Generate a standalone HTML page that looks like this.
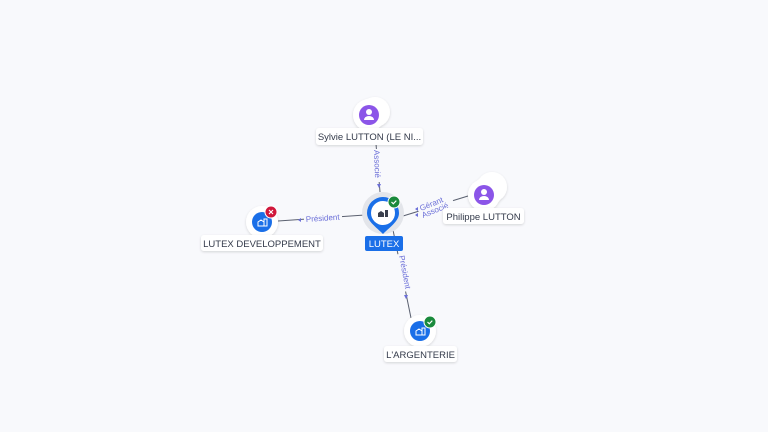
<!DOCTYPE html>
<html><head><style>
html,body{margin:0;padding:0;background:#f8f9fc;}
svg{display:block;font-family:"Liberation Sans",sans-serif;}
</style></head><body>
<svg width="768" height="432" viewBox="0 0 768 432" xmlns="http://www.w3.org/2000/svg">
<rect width="768" height="432" fill="#f8f9fc"/>
<defs>
<filter id="sh" x="-50%" y="-50%" width="200%" height="200%"><feDropShadow dx="0" dy="1" stdDeviation="1.2" flood-color="#000" flood-opacity="0.15"/></filter>
</defs>
<!-- edges -->
<g stroke="#5b6170" stroke-width="1" fill="none">
<line x1="375" y1="132" x2="380" y2="192"/>
<line x1="468" y1="196" x2="403" y2="216"/>
<line x1="278" y1="221" x2="365" y2="215"/>
<line x1="393" y1="230" x2="411" y2="318"/>
</g>
<g fill="#6b6fd8" font-size="8">
<rect x="372" y="149" width="10" height="33" fill="#f8f9fc"/>
<text transform="translate(374,150) rotate(88)">Associé</text>
<polygon points="377,184 381,184 379,188"/>
<rect x="419" y="198" width="36" height="22" fill="#f8f9fc" transform="rotate(-22 437 209)"/>
<text transform="translate(421,211) rotate(-22)">Gérant</text>
<text transform="translate(423,218) rotate(-22)">Associé</text>
<polygon points="418,207 418,211 415,209"/>
<polygon points="418,213 418,217 415,215"/>
<rect x="304" y="213" width="38" height="10" fill="#f8f9fc"/>
<text transform="translate(306,222) rotate(-4)">Président</text>
<polygon points="301,218 301,222 298,220"/>
<rect x="396" y="254" width="10" height="38" fill="#f8f9fc" transform="rotate(-11 401 273)"/>
<text transform="translate(399,256) rotate(79)">Président</text>
<polygon points="404,295 408,295 406,299"/>
</g>
<!-- Sylvie -->
<g filter="url(#sh)">
<circle cx="375" cy="112" r="15" fill="#fff"/>
<circle cx="372" cy="113" r="15" fill="#fff"/>
<circle cx="369" cy="115" r="16" fill="#fff"/>
</g>
<circle cx="369" cy="115" r="10" fill="#8b55e8"/>
<circle cx="369" cy="112" r="3" fill="#fff"/>
<path d="M364 120 a5 4 0 0 1 10 0 z" fill="#fff"/>
<rect x="316" y="128" width="107" height="17" rx="3" fill="#fff" filter="url(#sh)"/>
<text x="369.5" y="140" font-size="9.5" fill="#333a4a" text-anchor="middle">Sylvie LUTTON (LE NI...</text>
<!-- Philippe -->
<g filter="url(#sh)">
<circle cx="492" cy="187" r="15" fill="#fff"/>
<circle cx="488" cy="191" r="15" fill="#fff"/>
<circle cx="484" cy="195" r="16" fill="#fff"/>
</g>
<circle cx="484" cy="195" r="10" fill="#8b55e8"/>
<circle cx="484" cy="192" r="3" fill="#fff"/>
<path d="M479 200 a5 4 0 0 1 10 0 z" fill="#fff"/>
<rect x="443" y="208" width="81" height="16" rx="3" fill="#fff" filter="url(#sh)"/>
<text x="483.5" y="220" font-size="9.5" fill="#333a4a" text-anchor="middle">Philippe LUTTON</text>
<!-- LUTEX center -->
<circle cx="383" cy="213" r="21" fill="#e3e5ea"/>
<path d="M367 213 a16 16 0 1 1 32 0 c0 8 -8 13 -16 21 c-8 -8 -16 -13 -16 -21z" fill="#1a6fe8"/>
<circle cx="383" cy="213" r="12" fill="#fff"/>
<path d="M378 217 v-4 l3 -2 l3 2 v4 z M385 217 v-7 h3 v7z" fill="#3a3f4d"/>
<circle cx="394" cy="202" r="6" fill="#1a8a3c" stroke="#fff" stroke-width="1"/>
<path d="M391.5 202 l1.8 1.8 l3 -3.2" stroke="#fff" stroke-width="1.2" fill="none"/>
<rect x="365" y="236" width="38" height="15" rx="2" fill="#1a6fe8"/>
<text x="384" y="247" font-size="9.5" fill="#fff" text-anchor="middle">LUTEX</text>
<!-- LUTEX DEVELOPPEMENT -->
<circle cx="262" cy="222" r="16" fill="#fff" filter="url(#sh)"/>
<circle cx="262" cy="222" r="10" fill="#1a6fe8"/>
<path d="M258 226 v-4 l3 -2 l3 2 v4 z M264 226 v-7 h3 v7z" fill="none" stroke="#fff" stroke-width="1"/>
<circle cx="271" cy="212" r="6" fill="#d0173b" stroke="#fff" stroke-width="1"/>
<path d="M269 210 l4 4 M273 210 l-4 4" stroke="#fff" stroke-width="1.1"/>
<rect x="201" y="235" width="122" height="16" rx="3" fill="#fff" filter="url(#sh)"/>
<text x="262" y="247" font-size="9.5" fill="#333a4a" text-anchor="middle">LUTEX DEVELOPPEMENT</text>
<!-- L'ARGENTERIE -->
<circle cx="420" cy="331" r="16" fill="#fff" filter="url(#sh)"/>
<circle cx="420" cy="331" r="10" fill="#1a6fe8"/>
<path d="M416 335 v-4 l3 -2 l3 2 v4 z M422 335 v-7 h3 v7z" fill="none" stroke="#fff" stroke-width="1"/>
<circle cx="430" cy="322" r="6" fill="#1a8a3c" stroke="#fff" stroke-width="1"/>
<path d="M427.5 322 l1.8 1.8 l3 -3.2" stroke="#fff" stroke-width="1.2" fill="none"/>
<rect x="384" y="346" width="73" height="16" rx="3" fill="#fff" filter="url(#sh)"/>
<text x="420.5" y="358" font-size="9.5" fill="#333a4a" text-anchor="middle">L'ARGENTERIE</text>
</svg>
</body></html>
